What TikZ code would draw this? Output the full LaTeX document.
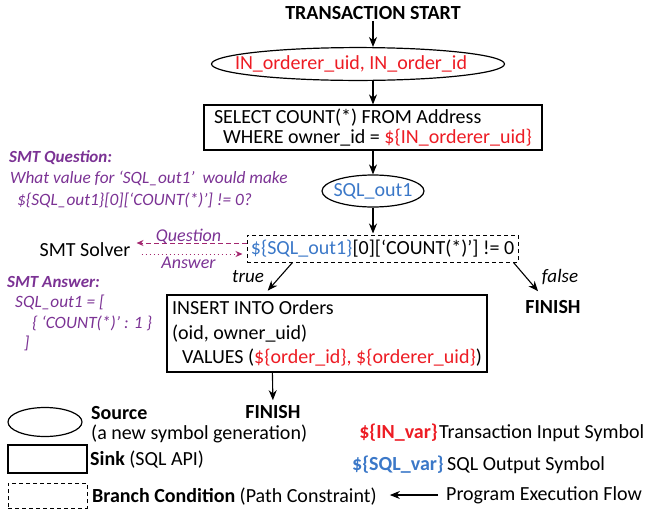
\documentclass[tikz,border=0pt]{standalone}
\usepackage{fontspec}
\setmainfont{Carlito}
\usepackage{xcolor}
\usepackage{tikz}
\usetikzlibrary{shapes, arrows.meta, positioning}
\definecolor{invar}{HTML}{ED1C24}
\definecolor{sqlvar}{HTML}{3B78C8}
\definecolor{smt}{HTML}{7B3294}
\definecolor{ask}{HTML}{A3266F}

\begin{document}
\begin{tikzpicture}[x=1pt,y=-1pt,font=\fontsize{20}{24}\selectfont,
    flow/.style={draw=black,line width=1.1pt,-{Stealth[length=10pt,width=8pt]}},
    askflow/.style={draw=ask,line width=1pt,-{Stealth[length=7pt,width=6pt]}},
    plain/.style={inner sep=0pt},
    smtxt/.style={inner sep=0pt,anchor=west,align=left,text=smt,font=\fontsize{17}{21}\selectfont\itshape}]
  \useasboundingbox (0,0) rectangle (645,512);

  % shapes of the flow
  \begin{scope}[every node/.style={draw,line width=1.2pt}]
    \node[ellipse,minimum width=293pt,minimum height=32pt] (inp) at (358,64)
      {\makebox[0pt]{\color{invar}IN\_orderer\_uid, IN\_order\_id\hspace{14pt}}};
    \node[inner xsep=9pt,minimum width=338pt,minimum height=45pt,align=left,
      font=\fontsize{20}{19.5}\selectfont] (sel) at (373,127.5)
      {SELECT COUNT(*) FROM Address\\\hspace*{9pt}WHERE owner\_id = \textcolor{invar}{\$\{IN\_orderer\_uid\}}};
    \node[ellipse,minimum width=102pt,minimum height=32pt] (out) at (373,191)
      {\makebox[0pt]{\color{sqlvar}SQL\_out1}};
    \node[line width=1pt,dash pattern=on 4pt off 3pt,minimum width=271pt,minimum height=27pt,inner xsep=1pt] (cond) at (382.5,248.5)
      {\textcolor{sqlvar}{\$\{SQL\_out1\}}[0][‘COUNT(*)’] != 0};
    \node[inner xsep=5pt,minimum width=320pt,minimum height=77pt,align=left,
      font=\fontsize{20}{24.5}\selectfont] (ins) at (327,333.5)
      {INSERT INTO Orders\\(oid, owner\_uid)\\\hspace*{10pt}VALUES (\textcolor{invar}{\$\{order\_id\}, \$\{orderer\_uid\}})};
    % legend
    \node[ellipse,minimum width=74pt,minimum height=29pt,inner sep=0pt] (srcL) at (45,422) {};
    \node[minimum width=79pt,minimum height=28pt,inner sep=0pt] (sinkL) at (47.5,459) {};
    \node[line width=1pt,dash pattern=on 4pt off 3pt,minimum width=79pt,minimum height=25pt,inner sep=0pt] (brL) at (47.5,495.5) {};
  \end{scope}

  \node[plain,font=\fontsize{20}{24}\selectfont\bfseries] (start) at (373,13) {TRANSACTION START};
  \node[plain,font=\fontsize{20}{24}\selectfont\bfseries] (finR) at (553,307) {FINISH};
  \node[plain,font=\fontsize{20}{24}\selectfont\bfseries] (finB) at (273,412) {FINISH};
  \node[plain,font=\fontsize{19}{24}\selectfont\itshape] (tru) at (248,277) {true};
  \node[plain,font=\fontsize{19}{24}\selectfont\itshape] (fal) at (560,277) {false};
  \node[plain] (solver) at (85,250) {SMT Solver};

  \node[smtxt,font=\fontsize{17}{21}\selectfont\bfseries\itshape] (qhead) at (9,158) {SMT Question:};
  \node[smtxt,font=\fontsize{17.3}{22}\selectfont\itshape] (qbody) at (10,189)
    {What value for ‘SQL\_out1’\ \ would make\\\hspace*{7pt}\$\{SQL\_out1\}[0][‘COUNT(*)’] != 0?};
  \node[smtxt,font=\fontsize{17}{21}\selectfont\bfseries\itshape] (ahead) at (7,282) {SMT Answer:};
  \node[smtxt,font=\fontsize{17.3}{20.5}\selectfont\itshape] (abody) at (15,323)
    {SQL\_out1 = [\\\hspace*{17pt}\{ ‘COUNT(*)’ : 1 \}\\\hspace*{9pt}]};

  \node[plain,anchor=west,align=left,font=\fontsize{20}{20}\selectfont] (srcT) at (91,425)
    {\textbf{Source}\\(a new symbol generation)};
  \node[plain,anchor=west] (sinkT) at (90,460) {\textbf{Sink} (SQL API)};
  \node[plain,anchor=west] (brT) at (92,497) {\textbf{Branch Condition} (Path Constraint)};
  \node[plain,anchor=east,text=invar,font=\fontsize{20}{24}\selectfont\bfseries] (inT) at (438,433) {\$\{IN\_var\}};
  \node[plain,right=1pt of inT] (inD) {Transaction Input Symbol};
  \node[plain,anchor=west,text=sqlvar,font=\fontsize{20}{24}\selectfont\bfseries] (sqlT) at (352,465) {\$\{SQL\_var\}};
  \node[plain,right=3pt of sqlT] (sqlD) {SQL Output Symbol};
  \node[plain,anchor=west] (pfT) at (446,495) {Program Execution Flow};

  % connectors
  \begin{scope}[every edge/.style={flow}]
    \path (start.south) edge[shorten <=1pt] (start.south |- inp.north);
    \path (inp.south -| sel.north) edge (sel.north);
    \path (sel.south) edge (out.north);
    \path (out.south) edge[shorten >=1pt] (out.south |- cond.north);
    \path ([xshift=46pt]cond.south west) edge[shorten >=5pt] ([xshift=98pt]ins.north west);
    \path ([xshift=-5pt]cond.south east) edge ([xshift=-15pt,yshift=9pt]finR.north);
    \path ([xshift=106pt]ins.south west) edge[shorten >=5pt] (finB.north);
    \path (pfT.west) edge[shorten <=8pt,shorten >=13pt] (pfT.west -| brT.east);
  \end{scope}
  \begin{scope}[every edge/.style={askflow}]
    \path ([yshift=5.5pt]cond.west) edge[dash pattern=on 5pt off 3pt,shorten >=6pt]
      node[above,inner sep=0pt,yshift=-1pt,text=smt,font=\fontsize{18}{20}\selectfont\itshape] {Question}
      ([yshift=5.5pt]cond.west -| solver.east);
    \path ([yshift=-5.5pt]cond.west -| solver.east) edge[dash pattern=on 1.5pt off 2.5pt,shorten <=11pt,shorten >=4pt]
      node[below,inner sep=0pt,yshift=-2pt,text=smt,font=\fontsize{18}{20}\selectfont\itshape] {Answer}
      ([yshift=-5.5pt]cond.west);
  \end{scope}
\end{tikzpicture}
\end{document}
